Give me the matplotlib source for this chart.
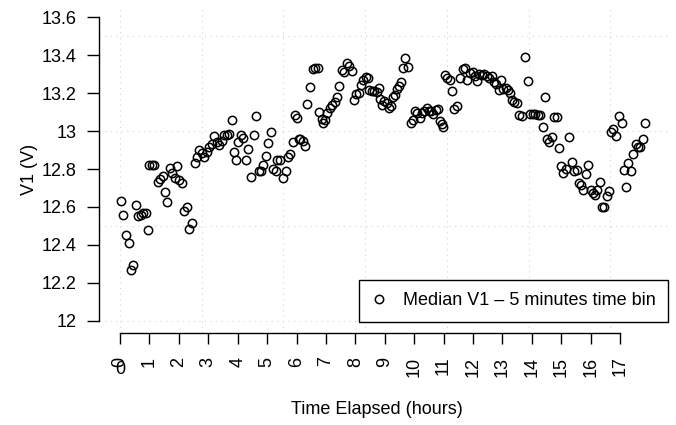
import numpy as np
import matplotlib
matplotlib.use("Agg")
import matplotlib.pyplot as plt
import matplotlib.transforms as mtransforms
from matplotlib.lines import Line2D

plt.rcParams['font.family'] = ['Liberation Sans', 'DejaVu Sans']

# tempo decorrido (horas) de cada bin de 5 minutos
horas = [
    0.02, 0.11, 0.19, 0.30, 0.36, 0.44, 0.54, 0.61, 0.70, 0.79, 0.88, 0.95,
    1.00, 1.08, 1.17, 1.28, 1.36, 1.45, 1.54, 1.61, 1.69, 1.77, 1.86, 1.95,
    2.02, 2.11, 2.19, 2.27, 2.36, 2.45, 2.54, 2.61, 2.69, 2.78, 2.87, 2.95,
    3.04, 3.13, 3.20, 3.29, 3.38, 3.47, 3.54, 3.63, 3.72, 3.80, 3.87, 3.95,
    4.02, 4.11, 4.19, 4.28, 4.36, 4.45, 4.55, 4.61, 4.73, 4.80, 4.87, 4.96,
    5.04, 5.12, 5.21, 5.29, 5.35, 5.44, 5.53, 5.63, 5.70, 5.78, 5.87, 5.95,
    6.03, 6.10, 6.12, 6.21, 6.29, 6.37, 6.46, 6.55, 6.64, 6.73, 6.78, 6.86,
    6.91, 6.97, 7.05, 7.14, 7.21, 7.30, 7.39, 7.46, 7.54, 7.62, 7.71, 7.79,
    7.88, 7.96, 8.02, 8.12, 8.19, 8.27, 8.36, 8.44, 8.48, 8.57, 8.65, 8.73,
    8.80, 8.84, 8.92, 8.99, 9.07, 9.15, 9.21, 9.29, 9.36, 9.43, 9.50, 9.56,
    9.61, 9.70, 9.78, 9.88, 9.95, 10.03, 10.11, 10.20, 10.27, 10.35, 10.43, 10.51,
    10.57, 10.65, 10.74, 10.82, 10.88, 10.95, 10.99, 11.04, 11.13, 11.22, 11.30, 11.36,
    11.45, 11.56, 11.67, 11.73, 11.81, 11.90, 11.99, 12.07, 12.13, 12.22, 12.30, 12.38,
    12.47, 12.55, 12.64, 12.72, 12.79, 12.88, 12.95, 13.03, 13.12, 13.20, 13.26, 13.32,
    13.40, 13.49, 13.58, 13.66, 13.78, 13.86, 13.94, 14.03, 14.11, 14.20, 14.28, 14.37,
    14.45, 14.53, 14.60, 14.69, 14.77, 14.85, 14.91, 15.00, 15.07, 15.17, 15.27, 15.36,
    15.45, 15.53, 15.60, 15.66, 15.75, 15.84, 15.92, 16.01, 16.09, 16.15, 16.23, 16.32,
    16.38, 16.46, 16.55, 16.63, 16.68, 16.77, 16.86, 16.98, 17.06, 17.14, 17.20, 17.28,
    17.37, 17.45, 17.53, 17.60, 17.68, 17.77, 17.86,
]

# mediana de V1 (V) em cada bin
v1_mediana = [
    12.63, 12.558, 12.45, 12.41, 12.27, 12.295, 12.61, 12.55, 12.558, 12.567, 12.57, 12.48,
    12.82, 12.82, 12.82, 12.73, 12.746, 12.763, 12.68, 12.625, 12.807, 12.78, 12.754, 12.817,
    12.742, 12.726, 12.58, 12.598, 12.484, 12.517, 12.83, 12.863, 12.90, 12.886, 12.865, 12.89,
    12.917, 12.93, 12.975, 12.942, 12.926, 12.946, 12.977, 12.979, 12.984, 13.06, 12.89, 12.85,
    12.944, 12.979, 12.965, 12.85, 12.905, 12.76, 12.98, 13.08, 12.79, 12.79, 12.82, 12.87,
    12.935, 12.995, 12.80, 12.79, 12.845, 12.847, 12.754, 12.79, 12.863, 12.88, 12.944, 13.083,
    13.07, 12.958, 12.956, 12.949, 12.92, 13.142, 13.23, 13.326, 13.33, 13.333, 13.10, 13.063,
    13.04, 13.058, 13.093, 13.12, 13.137, 13.154, 13.177, 13.237, 13.32, 13.31, 13.356, 13.344,
    13.316, 13.163, 13.193, 13.198, 13.245, 13.27, 13.286, 13.282, 13.216, 13.212, 13.212, 13.207,
    13.225, 13.17, 13.137, 13.16, 13.146, 13.12, 13.133, 13.18, 13.19, 13.22, 13.237, 13.26,
    13.333, 13.386, 13.338, 13.04, 13.058, 13.105, 13.093, 13.067, 13.093, 13.107, 13.123, 13.105,
    13.107, 13.09, 13.11, 13.114, 13.054, 13.035, 13.02, 13.293, 13.282, 13.27, 13.212, 13.116,
    13.132, 13.277, 13.326, 13.33, 13.268, 13.307, 13.31, 13.29, 13.263, 13.30, 13.295, 13.30,
    13.29, 13.277, 13.29, 13.26, 13.247, 13.216, 13.268, 13.22, 13.225, 13.216, 13.198, 13.163,
    13.154, 13.146, 13.084, 13.079, 13.39, 13.263, 13.09, 13.088, 13.09, 13.084, 13.084, 13.023,
    13.18, 12.956, 12.94, 12.97, 13.075, 13.072, 12.909, 12.816, 12.78, 12.80, 12.97, 12.838,
    12.79, 12.795, 12.728, 12.714, 12.69, 12.774, 12.82, 12.69, 12.672, 12.663, 12.69, 12.733,
    12.598, 12.598, 12.658, 12.684, 12.996, 13.009, 12.974, 13.079, 13.04, 12.795, 12.707, 12.833,
    12.79, 12.879, 12.932, 12.917, 12.917, 12.956, 13.04,
]

y_ticks = [12.0, 12.2, 12.4, 12.6, 12.8, 13.0, 13.2, 13.4, 13.6]
y_labels = ['12', '12.2', '12.4', '12.6', '12.8', '13', '13.2', '13.4', '13.6']
x_ticks = list(range(0, 18))
x_labels = [str(h) for h in x_ticks]

FS = 13
W, H = 676, 425
fig = plt.figure(figsize=(W / 100, H / 100), dpi=100)
# area do grafico em pixels: x 99..668, y 5..333
ax = fig.add_axes([99 / W, (H - 333) / H, (668 - 99) / W, (333 - 5) / H])

ax.set_xlim(-0.717, 18.63)
ax.set_ylim(11.936, 13.664)

# grade pontilhada (x em segundos no original: passo de 10000 s)
for g in np.arange(0, 19, 10000 / 3600):
    ax.axvline(g, color='#d3d3d3', lw=0.8, ls=(0, (1, 4)), zorder=0)
for g in [12.0, 12.5, 13.0, 13.5]:
    ax.axhline(g, color='#d3d3d3', lw=0.8, ls=(0, (1, 4)), zorder=0)

ax.plot(horas, v1_mediana, ls='none', marker='o', ms=6, mfc='none',
        mec='black', mew=1.1, zorder=2)

for s in ['top', 'right']:
    ax.spines[s].set_visible(False)
ax.spines['left'].set_bounds(12.0, 13.6)
ax.spines['bottom'].set_bounds(0, 17)
ax.spines['left'].set_linewidth(1.0)
ax.spines['bottom'].set_linewidth(1.0)

ax.set_yticks(y_ticks)
ax.set_yticklabels(y_labels)
ax.set_xticks(x_ticks)
ax.set_xticklabels(x_labels, rotation=90, va='top', ha='center')
ax.tick_params(axis='y', length=9, width=1, pad=7, labelsize=FS)
ax.tick_params(axis='x', length=8, width=1, pad=9, labelsize=FS)

# rotulo "0" duplicado no inicio do eixo
tr = mtransforms.blended_transform_factory(ax.transData, fig.transFigure)
ax.text(0, (H - 361) / H, '0', transform=tr, ha='center', va='top', fontsize=FS)

fig.text(377 / W, (H - 410) / H, 'Time Elapsed (hours)', ha='center', va='center', fontsize=FS)
fig.text(30 / W, (H - 169) / H, 'V1 (V)', ha='center', va='center', rotation=90, fontsize=FS)

handle = Line2D([], [], ls='none', marker='o', ms=6, mfc='none', mec='black', mew=1.1)
leg = ax.legend([handle], ['Median V1 \u2013 5 minutes time bin'], loc='lower right',
                bbox_to_anchor=(668 / W, (H - 322) / H), bbox_transform=fig.transFigure,
                borderaxespad=0, fontsize=FS, frameon=True, fancybox=False, framealpha=1,
                edgecolor='black', handlelength=0.8, handletextpad=0.9, borderpad=0.7)
leg.get_frame().set_linewidth(1.0)

fig.savefig('out.png', dpi=100)
